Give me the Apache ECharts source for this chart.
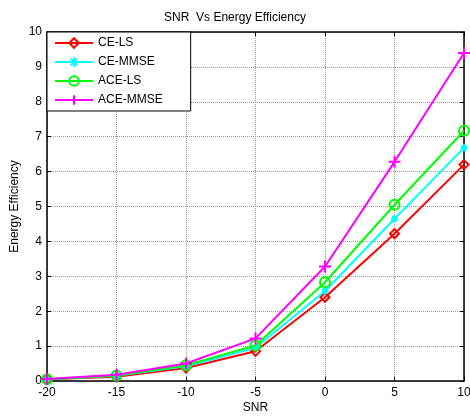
<!DOCTYPE html>
<html><head><meta charset="utf-8">
<script src="https://cdn.jsdelivr.net/npm/echarts@6/dist/echarts.min.js"></script>
<style>html,body{margin:0;padding:0;background:#fff}#c{width:470px;height:416px}</style>
</head><body><div id="c"></div>
<script>
const snr = [-20, -15, -10, -5, 0, 5, 10];
const ceLS = [0.05, 0.12, 0.37, 0.85, 2.40, 4.22, 6.20];
const ceMMSE = [0.05, 0.15, 0.42, 0.95, 2.58, 4.65, 6.68];
const aceLS = [0.05, 0.16, 0.45, 1.02, 2.83, 5.05, 7.17];
const aceMMSE = [0.06, 0.18, 0.50, 1.22, 3.28, 6.28, 9.40];
const names = ['CE-LS', 'CE-MMSE', 'ACE-LS', 'ACE-MMSE'];
const colors = ['#ff0000', '#00ffff', '#00ff00', '#ff00ff'];
const symbols = ['diamond',
  'path://M0,-1L0,1M-1,0L1,0M-0.7,-0.7L0.7,0.7M-0.7,0.7L0.7,-0.7',
  'circle',
  'path://M0,-1L0,1M-1,0L1,0'];
const sizes = [9, 7, 10, 12];
const allData = [ceLS, ceMMSE, aceLS, aceMMSE];
const font = 'Liberation Sans, Arial, sans-serif';
const chart = echarts.init(document.getElementById('c'));
const axisCommon = {
  min: 0, max: 10, interval: 1,
  axisLine: {show: true, onZero: false, lineStyle: {color: '#000', width: 1.5}},
  axisTick: {show: true, inside: true, length: 4, lineStyle: {color: '#000'}},
};
const gridLine = {show: true, lineStyle: {color: '#999', type: [1, 1], width: 1}};
chart.setOption({
  animation: false,
  title: {text: 'SNR  Vs Energy Efficiency', left: 'center', top: 7,
    textStyle: {fontFamily: font, fontSize: 12, fontWeight: 'normal', color: '#000'}},
  grid: {left: 47, right: 6, top: 32, bottom: 35, containLabel: false, outerBoundsMode: 'none'},
  legend: {
    orient: 'vertical', left: 47, top: 32, width: 124,
    padding: [5, 28, 5, 7],
    backgroundColor: '#fff', borderColor: '#000', borderWidth: 1,
    itemWidth: 38, itemHeight: 12, itemGap: 7,
    textStyle: {fontFamily: font, fontSize: 12, color: '#000'},
    data: names
  },
  xAxis: [
    {type: 'value', min: -20, max: 10, interval: 5, position: 'bottom',
     name: 'SNR', nameLocation: 'middle', nameGap: 21, nameMoveOverlap: false,
     nameTextStyle: {fontFamily: font, fontSize: 12, color: '#000'},
     axisLine: {show: true, onZero: false, lineStyle: {color: '#000', width: 1.5}},
     axisTick: {show: true, inside: true, length: 4, lineStyle: {color: '#000'}},
     axisLabel: {fontFamily: font, fontSize: 12, color: '#000', margin: 6},
     splitLine: gridLine},
    {type: 'value', min: -20, max: 10, interval: 5, position: 'top',
     axisLine: {show: true, onZero: false, lineStyle: {color: '#000', width: 1.5}},
     axisTick: {show: true, inside: true, length: 4, lineStyle: {color: '#000'}},
     axisLabel: {show: false}, splitLine: {show: false}}
  ],
  yAxis: [
    Object.assign({type: 'value', position: 'left',
     name: 'Energy Efficiency', nameLocation: 'middle', nameGap: 26, nameRotate: 90,
     nameMoveOverlap: false,
     nameTextStyle: {fontFamily: font, fontSize: 12, color: '#000'},
     axisLabel: {fontFamily: font, fontSize: 12, color: '#000', margin: 5},
     splitLine: gridLine}, axisCommon),
    Object.assign({type: 'value', position: 'right',
     axisLabel: {show: false}, splitLine: {show: false}}, axisCommon)
  ],
  series: names.map((n, i) => ({
    name: n, type: 'line', xAxisIndex: 0, yAxisIndex: 0,
    data: snr.map((x, j) => [x, allData[i][j]]),
    symbol: symbols[i], symbolSize: sizes[i], showAllSymbol: true,
    color: colors[i],
    lineStyle: {color: colors[i], width: 2},
    itemStyle: {color: 'rgba(255,255,255,0)', borderColor: colors[i], borderWidth: 2},
    z: 2 + i
  }))
});
</script></body></html>
